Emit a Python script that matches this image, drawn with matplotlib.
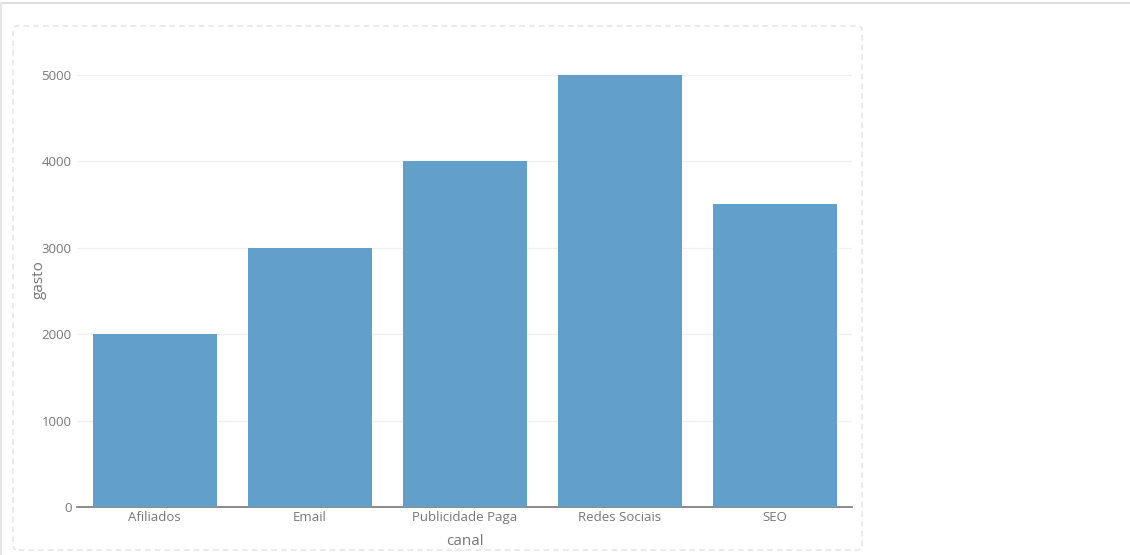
import matplotlib.pyplot as plt
from matplotlib.patches import FancyBboxPatch
from matplotlib.lines import Line2D

canais = ['Afiliados', 'Email', 'Publicidade Paga', 'Redes Sociais', 'SEO']
gasto = [2000, 3000, 4000, 5000, 3500]
yticks = [0, 1000, 2000, 3000, 4000, 5000]

plt.rcParams['font.family'] = ['Open Sans', 'DejaVu Sans']

fig = plt.figure(figsize=(11.3, 5.55), dpi=100)
ax = fig.add_axes([77/1130, 48/555, 775/1130, 455/555])

ax.bar(range(len(canais)), gasto, width=0.8, color='#62a0ca', zorder=3)
ax.set_xlim(-0.5, len(canais) - 0.5)
ax.set_ylim(0, 5263)
ax.set_yticks(yticks)
ax.set_xticks(range(len(canais)))
ax.set_xticklabels(canais)
ax.grid(axis='y', color='#f0f0f0', linewidth=1, zorder=0)
for s in ['top', 'right', 'left']:
    ax.spines[s].set_visible(False)
ax.spines['bottom'].set_color('#777777')
ax.spines['bottom'].set_linewidth(1.2)
ax.tick_params(axis='x', length=0, pad=3, labelsize=9.5, labelcolor='#777777')
ax.tick_params(axis='y', length=0, pad=4, labelsize=9.5, labelcolor='#777777')
ax.set_xlabel('canal', fontsize=11, color='#777777', labelpad=7)
ax.set_ylabel('gasto', fontsize=11, color='#777777', labelpad=-4)

# page edges (top and left) and dashed card
fig.add_artist(Line2D([0, 1], [552/555, 552/555], transform=fig.transFigure,
                      color='#dddddd', linewidth=1.5))
fig.add_artist(Line2D([1/1130, 1/1130], [0, 552/555], transform=fig.transFigure,
                      color='#e6e6e6', linewidth=1.5))
fig.add_artist(FancyBboxPatch((13/1130, 5/555), 849/1130, 524/555,
                              boxstyle='round,pad=0,rounding_size=0.005',
                              transform=fig.transFigure, fill=False,
                              edgecolor='#e2e2e2', linestyle=(0, (4, 3)), linewidth=1))

fig.savefig('out.png', dpi=100)
